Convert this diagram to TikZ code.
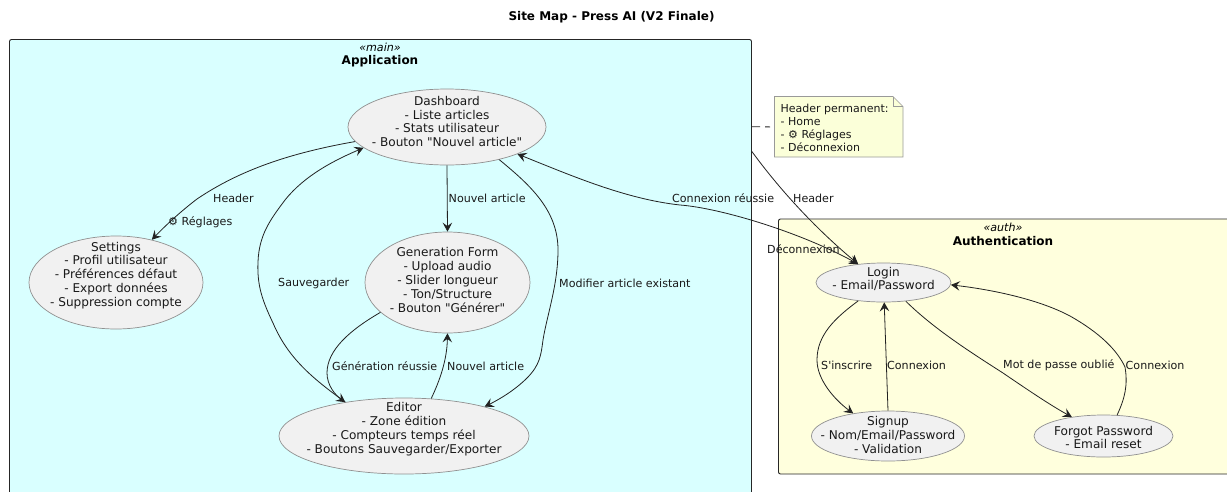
\documentclass[tikz,border=0pt]{standalone}
\usepackage{fontspec}
\setmainfont{DejaVu Sans}
\newfontfamily\djvfont{DejaVu Sans}
\usetikzlibrary{arrows.meta,shapes.geometric}
\definecolor{appfill}{HTML}{D9FFFF}
\definecolor{authfill}{HTML}{FFFFDD}
\definecolor{ovalfill}{HTML}{F1F1F1}
\definecolor{ovalline}{HTML}{909090}
\definecolor{notefill}{HTML}{FBFFD9}
\definecolor{noteline}{HTML}{999999}
\definecolor{inkline}{HTML}{222222}
\newcommand{\txtsize}{\djvfont\fontsize{11.1}{13.6}\selectfont}
\newcommand{\ovalsize}{\djvfont\fontsize{12.1}{13.85}\selectfont}
\newcommand{\headsize}{\djvfont\fontsize{12}{14}\selectfont\bfseries}
\tikzset{
  x=1pt,y=-1pt,
  tip/.tip={Stealth[length=9pt,width=9.5pt,inset=3.5pt]},
  cluster/.style={draw=black!85,line width=.9pt,rounded corners=2pt},
  oval/.style={ellipse,draw=ovalline,fill=ovalfill,line width=.7pt,inner sep=0pt},
  ovaltext/.style={align=center,font=\ovalsize,text=black!90,inner sep=0pt},
  edge/.style={draw=inkline,line width=.8pt,-{tip}},
  edgeboth/.style={draw=inkline,line width=.8pt,{tip}-{tip}},
  lab/.style={anchor=west,font=\txtsize,text=black!90,inner sep=0pt},
  clusterhead/.style={font=\headsize,inner sep=0pt,text=black},
}
\begin{document}
\begin{tikzpicture}
\path[use as bounding box,clip] (0,0) rectangle (1227,491);
\fill[white] (0,0) rectangle (1227,491);
% clusters
\draw[cluster,fill=appfill] (9.5,39.5) rectangle (751.5,510);
\draw[cluster,fill=authfill] (778.5,219) rectangle (1245,474);
\node[clusterhead] (title) at (611.5,17) {Site Map - Press AI (V2 Finale)};
\node[clusterhead,font=\txtsize\itshape] (mainst) at (380,47) {«main»};
\node[clusterhead] (apptitle) at (380,61.5) {Application};
\node[clusterhead,font=\txtsize\itshape] (authst) at (1003,227) {«auth»};
\node[clusterhead] (authtitle) at (1003,241.5) {Authentication};
% use cases
\node[oval,minimum width=198pt,minimum height=76pt,label={[ovaltext,yshift=5.5pt]center:{Dashboard\\- Liste articles\\- Stats utilisateur\\- Bouton "Nouvel article"}}] (dash) at (447,127) {};
\node[oval,minimum width=165pt,minimum height=101pt,label={[ovaltext,yshift=2.5pt]center:{Generation Form\\- Upload audio\\- Slider longueur\\- Ton/Structure\\- Bouton "Générer"}}] (gen) at (447.5,282.5) {};
\node[oval,minimum width=174pt,minimum height=93pt,label={[ovaltext,yshift=7pt]center:{Settings\\- Profil utilisateur\\- Préférences défaut\\- Export données\\- Suppression compte}}] (settings) at (116,282.5) {};
\node[oval,minimum width=250pt,minimum height=76pt,label={[ovaltext,yshift=6.7pt]center:{Editor\\- Zone édition\\- Compteurs temps réel\\- Boutons Sauvegarder/Exporter}}] (editor) at (404,436) {};
\node[oval,minimum width=135pt,minimum height=39pt,label={[ovaltext,yshift=3.5pt]center:{Login\\- Email/Password}}] (login) at (883.5,282.5) {};
\node[oval,minimum width=153pt,minimum height=50pt,label={[ovaltext,yshift=1pt]center:{Signup\\- Nom/Email/Password\\- Validation}}] (signup) at (888,436) {};
\node[oval,minimum width=139pt,minimum height=42pt,label={[ovaltext,yshift=-1.5pt]center:{Forgot Password\\- Email reset}}] (forgot) at (1103.5,436) {};
% note
\draw[noteline,fill=notefill,line width=.7pt] (774.5,96.5) -- (893,96.5) -- (903,106.5) -- (903,157) -- (774.5,157) -- cycle;
\draw[noteline,line width=.7pt] (893,96.5) -- (893,106.5) -- (903,106.5);
\node[anchor=north west,minimum width=128.5pt,minimum height=60.5pt,inner sep=0pt] (note) at (774.5,96.5) {};
\node[anchor=west,align=left,font=\djvfont\fontsize{11}{12.8}\selectfont,inner sep=0pt,text=black!90] (notetext) at (780.5,128) {Header permanent:\\- Home\\- ⚙ Réglages\\- Déconnexion};
\coordinate (notefoot) at (751.5,126.7);
\coordinate (headerfoot) at (751.5,151);
\draw[inkline,line width=.8pt,dash pattern=on 8.5pt off 5pt,shorten >=4.5pt] (notefoot) -- (note.west);
% connectors
\draw[edge] (dash.189) .. controls (290,153) and (240,170) .. (197,199) .. controls (180,212) and (165,226) .. (settings.50);
\draw[edge] (editor.150) .. controls (312,378) and (288,358) .. (273,323) .. controls (262,300) and (257,285) .. (258,262) .. controls (259,235) and (270,220) .. (285,200) .. controls (305,175) and (335,160) .. (dash.194);
\draw[edge] (dash.south) -- (gen.north);
\draw[edge] (dash.328) .. controls (530,185) and (558,210) .. (558,250) .. controls (558,285) and (547,315) .. (543,340) .. controls (541,355) and (540,365) .. (527,378) .. controls (515,390) and (500,399) .. (editor.20);
\draw[edgeboth] (dash.339) .. controls (570,175) and (625,199) .. (680,205) .. controls (720,208) and (800,232) .. (login.144);
\draw[edge] (headerfoot) .. controls (780,190) and (815,228) .. (login.144);
\draw[edge] (gen.204) .. controls (350,330) and (327,350) .. (327,373) .. controls (327,385) and (335,395) .. (editor.150);
\draw[edge] (editor.54) .. controls (440,380) and (447,360) .. (gen.south);
\draw[edge] (login.216) .. controls (835,318) and (817,335) .. (817,360) .. controls (817,380) and (835,400) .. (signup.147);
\draw[edge] (signup.north) -- (login.272);
\draw[edge] (login.320) .. controls (935,330) and (975,355) .. (1003,373) .. controls (1025,388) and (1050,405) .. (forgot.149);
\draw[edge] (forgot.57) .. controls (1125,398) and (1128,385) .. (1125,367) .. controls (1117,350) and (1100,333) .. (1070,316) .. controls (1040,300) and (995,290) .. (login.358);
% connector labels
\node[lab] (l1) at (213,198) {Header};
\node[lab] (l2) at (168,222) {⚙ Réglages};
\node[lab] (l3) at (278,283) {Sauvegarder};
\node[lab] (l4) at (448.5,198) {Nouvel article};
\node[lab] (l5) at (559,283) {Modifier article existant};
\node[lab] (l6) at (332,366) {Génération réussie};
\node[lab] (l7) at (447,366) {Nouvel article};
\node[lab] (l8) at (672,198) {Connexion réussie};
\node[lab] (l9) at (793,198) {Header};
\node[lab] (l10) at (767,249.5) {Déconnexion};
\node[lab] (l11) at (821,365) {S'inscrire};
\node[lab] (l12) at (887,365) {Connexion};
\node[lab] (l13) at (1003,365) {Mot de passe oublié};
\node[lab] (l14) at (1125.5,365) {Connexion};
\end{tikzpicture}
\end{document}
